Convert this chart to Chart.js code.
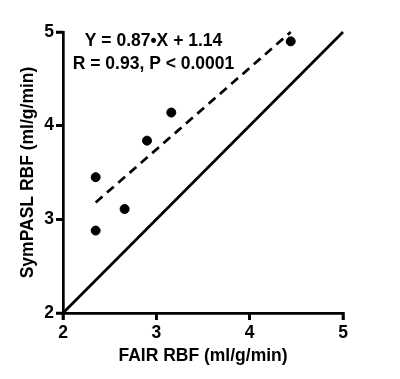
<!DOCTYPE html>
<html>
<head>
<meta charset="utf-8">
<script src="https://cdn.jsdelivr.net/npm/chart.js@4"></script>
<style>
  html, body { margin: 0; padding: 0; background: #fff; }
  #wrap { width: 400px; height: 379px; }
</style>
</head>
<body>
<div id="wrap"><canvas id="graf" width="400" height="379"></canvas></div>
<script>
// values
const fairRbf = [2.35, 2.35, 2.66, 2.90, 3.16, 4.44];
const sympaslRbf = [3.45, 2.88, 3.11, 3.84, 4.14, 4.90];
const fitX = [2.35, 4.44];
const fitY = [3.18, 5.00];
const identityX = [2, 5];
const identityY = [2, 5];
const tickValues = [2, 3, 4, 5];
const rovnice = ["Y = 0.87\u2022X + 1.14", "R = 0.93, P < 0.0001"];

const pisma = "'Liberation Sans', Arial, sans-serif";
const velikost = 17.5;
const tloustka = 2.7;
const delkaTicku = 7;

function body(xs, ys) {
    return xs.map(function(x, i) { return { x: x, y: ys[i] }; });
}

// text rovnice + vnejsi ticky (pozice z os grafu)
const textPlugin = {
    id: "rovnice",
    afterDraw: function(chart) {
        const ctx = chart.ctx;
        const sx = chart.scales.x, sy = chart.scales.y;
        const a = chart.chartArea;
        ctx.save();
        ctx.strokeStyle = "#000";
        ctx.lineWidth = tloustka;
        ctx.beginPath();
        tickValues.forEach(function(v) {
            const px = sx.getPixelForValue(v);
            ctx.moveTo(px, a.bottom);
            ctx.lineTo(px, a.bottom + delkaTicku);
            const py = sy.getPixelForValue(v);
            ctx.moveTo(a.left, py);
            ctx.lineTo(a.left - delkaTicku, py);
        });
        ctx.stroke();
        ctx.font = "bold " + velikost + "px " + pisma;
        ctx.fillStyle = "#000";
        ctx.textAlign = "center";
        ctx.textBaseline = "middle";
        ctx.fillText(rovnice[0], sx.getPixelForValue(2.97), sy.getPixelForValue(4.90));
        ctx.fillText(rovnice[1], sx.getPixelForValue(2.97), sy.getPixelForValue(4.66));
        ctx.restore();
    }
};

const osa = function(titulek) {
    return {
        type: "linear",
        min: 2, max: 5,
        afterBuildTicks: function(scale) { scale.ticks = tickValues.map(function(v) { return { value: v }; }); },
        grid: { drawOnChartArea: false, color: "#000", lineWidth: tloustka, tickColor: "#000", tickWidth: tloustka, tickLength: delkaTicku },
        border: { color: "#000", width: tloustka },
        ticks: { color: "#000", font: { family: pisma, size: velikost, weight: "bold" } },
        title: { display: true, text: titulek, color: "#000", font: { family: pisma, size: velikost, weight: "bold" } }
    };
};

const xOsa = osa("FAIR RBF (ml/g/min)");
xOsa.ticks.padding = 3;
xOsa.title.padding = { top: 0, bottom: 0 };
xOsa.afterFit = function(scale) { scale.height = 54; };
const yOsa = osa("SymPASL RBF (ml/g/min)");
yOsa.ticks.padding = 2;
yOsa.title.padding = { top: 0, bottom: 0 };
yOsa.afterFit = function(scale) { scale.width = 45; };

new Chart(document.getElementById("graf").getContext("2d"), {
    type: "scatter",
    data: {
        datasets: [
            { data: body(identityX, identityY), showLine: true, borderColor: "#000", borderWidth: tloustka, pointRadius: 0, fill: false, clip: false },
            { data: body(fitX, fitY), showLine: true, borderColor: "#000", borderWidth: tloustka, borderDash: [9, 6], pointRadius: 0, fill: false, clip: false },
            { data: body(fairRbf, sympaslRbf), backgroundColor: "#000", borderColor: "#000", pointRadius: 4.5, pointHoverRadius: 4.5, clip: false }
        ]
    },
    options: {
        responsive: false,
        animation: false,
        layout: { padding: { left: 18, right: 57, top: 32, bottom: 12 } },
        plugins: { legend: { display: false }, tooltip: { enabled: false } },
        scales: { x: xOsa, y: yOsa }
    },
    plugins: [textPlugin]
});
</script>
</body>
</html>
